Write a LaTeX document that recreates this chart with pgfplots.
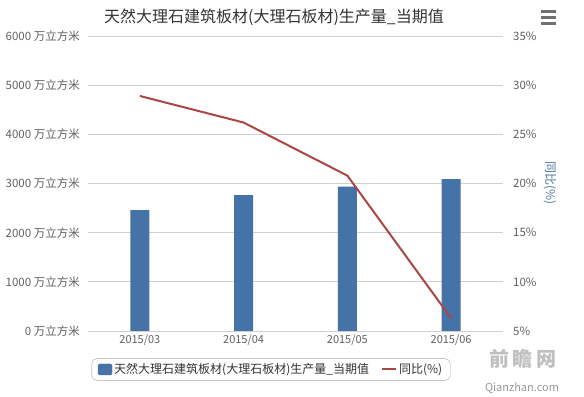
\documentclass[border=0pt]{standalone}
\usepackage{pgfplots}
\pgfplotsset{compat=1.18}
\usepackage{fontspec}
\setmainfont{Noto Sans CJK SC}
\definecolor{barblue}{HTML}{4572A7}
\definecolor{linered}{HTML}{AA4643}
\definecolor{gridgray}{HTML}{D0D0D0}
\definecolor{labgray}{HTML}{606060}
\definecolor{titlecol}{HTML}{333333}
\definecolor{axtitle}{HTML}{4D759E}
\begin{document}
\begin{tikzpicture}[x=1pt,y=1pt]
\path (0,0) rectangle (584,396);
\node[text=titlecol, font=\fontsize{16}{18}\selectfont] at (274,379) {天然大理石建筑板材(大理石板材)生产量\_当期值};
% menu icon
\foreach \yy in {384.3,378.3,372.7}{\draw[labgray!90, line width=2.6pt] (541,\yy) -- (556,\yy);}
% watermark
\node[text=gray!50, font=\fontsize{20}{22}\selectfont\bfseries] at (523,37) {前\,瞻\,网};
\node[text=gray!80, font=\fontsize{11}{12}\selectfont] at (522,8) {Qianzhan.com};
\begin{axis}[
  at={(88pt,65pt)}, anchor=south west, scale only axis,
  width=415pt, height=295pt,
  xmin=-0.5, xmax=3.5, ymin=0, ymax=6000,
  axis line style={draw=none},
  major tick length=0pt,
  ymajorgrids, major grid style={gridgray, line width=0.9pt},
  ytick={0,1000,2000,3000,4000,5000,6000},
  yticklabels={0 万立方米,1000 万立方米,2000 万立方米,3000 万立方米,4000 万立方米,5000 万立方米,6000 万立方米},
  xtick={0,1,2,3},
  xticklabels={2015/03,2015/04,2015/05,2015/06},
  yticklabel style={text=labgray, font=\fontsize{11.5}{13}\selectfont, inner sep=0pt, xshift=-8pt},
  xticklabel style={text=labgray, font=\fontsize{11}{13}\selectfont, inner sep=0pt, yshift=-4pt},
]
\addplot[ybar, bar width=19pt, fill=barblue, draw=none] coordinates {(0,2460) (1,2765) (2,2935) (3,3090)};
\end{axis}
\begin{axis}[
  at={(88pt,65pt)}, anchor=south west, scale only axis,
  width=415pt, height=295pt,
  xmin=-0.5, xmax=3.5, ymin=5, ymax=35,
  axis line style={draw=none},
  axis y line*=right, axis x line=none,
  major tick length=0pt,
  ytick={5,10,15,20,25,30,35},
  yticklabels={5\%,10\%,15\%,20\%,25\%,30\%,35\%},
  yticklabel style={text=labgray, font=\fontsize{11.5}{13}\selectfont, inner sep=0pt, xshift=10pt, anchor=west},
  legend columns=2,
  legend style={at={(0.441,-0.1305)}, anchor=center, draw=gray!70, rounded corners=5pt,
    font=\fontsize{12}{14}\selectfont, text=titlecol, inner xsep=6pt, inner ysep=3pt,
    /tikz/every even column/.append style={column sep=10pt}},
]
\addlegendimage{legend image code/.code={\fill[barblue, rounded corners=1.5pt] (0pt,-5.5pt) rectangle (14pt,5.5pt);}}
\addlegendentry{天然大理石建筑板材(大理石板材)生产量\_当期值}
\addplot[linered, line width=2pt, mark=none, legend image code/.code={\draw[linered, line width=2pt] (0pt,0pt) -- (14pt,0pt);}] coordinates {(0,28.9) (1,26.2) (2,20.8) (3,6.3)};
\addlegendentry{同比(\%)}
\end{axis}
\node[rotate=-90, text=axtitle, font=\fontsize{12}{14}\selectfont] at (550,213) {同比(\%)};
\end{tikzpicture}
\end{document}
